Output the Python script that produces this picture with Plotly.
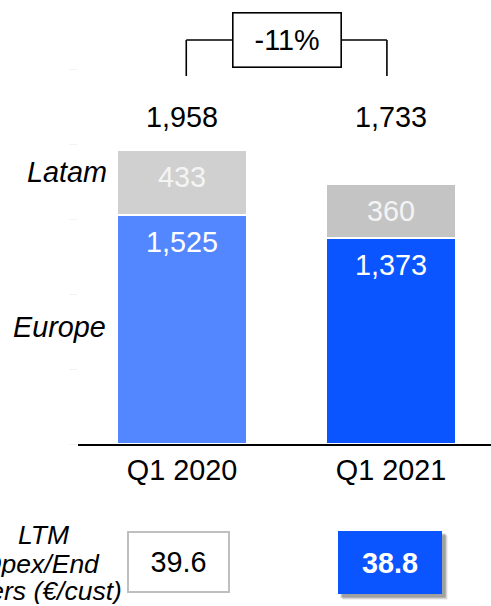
import plotly.graph_objects as go

categories = ["Q1 2020", "Q1 2021"]
europe = [1525, 1373]
latam = [433, 360]
ltm_opex = [39.6, 38.8]
change_label = "-11%"

europe_colors = ["#5387FF", "#0A55FF"]
latam_colors = ["#D0D0D0", "#C4C4C4"]

FONT = "Liberation Sans, Arial, sans-serif"
FS = 28.8

totals = [e + l for e, l in zip(europe, latam)]
xpos = list(range(len(categories)))

fig = go.Figure()
fig.add_trace(go.Bar(
    x=xpos, y=europe, width=0.624,
    marker=dict(color=europe_colors, line=dict(color="white", width=2.5)),
    hoverinfo="skip", showlegend=False,
))
fig.add_trace(go.Bar(
    x=xpos, y=latam, width=0.624,
    marker=dict(color=latam_colors, line=dict(color="white", width=2.5)),
    hoverinfo="skip", showlegend=False,
))

ann = []
# values inside segments
for i in xpos:
    ann.append(dict(x=i, y=europe[i], xref="x", yref="y", text=f"{europe[i]:,}",
                    showarrow=False, yanchor="middle", yshift=-27,
                    font=dict(family=FONT, size=FS, color="white")))
    ann.append(dict(x=i, y=totals[i], xref="x", yref="y", text=f"{latam[i]:,}",
                    showarrow=False, yanchor="middle", yshift=-27,
                    font=dict(family=FONT, size=FS, color="#F4F4F4")))
    # totals above
    ann.append(dict(x=i, y=(444 - 117) / 444, xref="x", yref="paper", text=f"{totals[i]:,}",
                    showarrow=False, yanchor="middle",
                    font=dict(family=FONT, size=FS, color="black")))

# series labels on the left
ann.append(dict(x=0, y=europe[0] + latam[0] / 2, xref="paper", yref="y", text="<i>Latam</i>",
                showarrow=False, xanchor="right", yanchor="middle", xshift=31, yshift=11,
                font=dict(family=FONT, size=FS, color="black")))
ann.append(dict(x=0, y=europe[0] / 2, xref="paper", yref="y", text="<i>Europe</i>",
                showarrow=False, xanchor="right", yanchor="middle", xshift=30, yshift=3,
                font=dict(family=FONT, size=FS, color="black")))

# change box
ann.append(dict(x=0.5, y=(444 - 39.5) / 444, xref="x", yref="paper", text=change_label,
                showarrow=False, xanchor="center", yanchor="middle",
                width=107, height=53, borderpad=0, bordercolor="black", borderwidth=1.6,
                bgcolor="white", font=dict(family=FONT, size=FS, color="black")))

# bottom metric boxes
by = (444 - 562) / 444
for k, (dx, dy, a) in enumerate([(5, -5, 0.10), (4, -4, 0.14), (3, -3, 0.18)]):
    ann.append(dict(x=1, y=by, xref="x", yref="paper", text="", showarrow=False,
                    xanchor="center", yanchor="middle", width=104, height=63, borderpad=0,
                    xshift=-1 + dx, yshift=dy, bgcolor=f"rgba(0,0,0,{a})"))
ann.append(dict(x=0, y=by, xref="x", yref="paper", text=f"{ltm_opex[0]}",
                showarrow=False, xanchor="center", yanchor="middle", xshift=-4,
                width=99, height=58, borderpad=0, bordercolor="#BFBFBF", borderwidth=2,
                bgcolor="white", font=dict(family=FONT, size=FS, color="black")))
ann.append(dict(x=1, y=by, xref="x", yref="paper", text=f"<b>{ltm_opex[1]}</b>",
                showarrow=False, xanchor="center", yanchor="middle", xshift=-1,
                width=104, height=63, borderpad=0, borderwidth=0,
                bgcolor="#0A55FF", font=dict(family=FONT, size=FS, color="white")))

# metric label (three lines)
for txt, right, yc in [("LTM", 71, 534), ("Opex/End", 101, 563), ("Customers (€/cust)", 123, 590)]:
    ann.append(dict(x=(right - 78) / 413, y=(444 - yc) / 444, xref="paper", yref="paper",
                    text=f"<i>{txt}</i>", showarrow=False, xanchor="right", yanchor="middle",
                    height=27, borderpad=0,
                    font=dict(family=FONT, size=26.5, color="black")))

shapes = []
yb = (444 - 76) / 444
yt = (444 - 40) / 444
for xl in (0.02, 0.98):
    shapes.append(dict(type="line", xref="x", yref="paper", x0=xl, x1=xl, y0=yb, y1=yt,
                       line=dict(color="black", width=1.6), layer="below"))
shapes.append(dict(type="line", xref="x", yref="paper", x0=0.02, x1=0.98, y0=yt, y1=yt,
                   line=dict(color="black", width=1.6), layer="below"))

fig.update_layout(
    width=491, height=606,
    margin=dict(l=78, r=0, t=0, b=162),
    barmode="stack", bargap=0,
    plot_bgcolor="white", paper_bgcolor="white",
    annotations=ann, shapes=shapes,
    font=dict(family=FONT, size=FS, color="black"),
)
fig.update_xaxes(
    range=[-0.498, 1.478], tickmode="array", tickvals=xpos, ticktext=categories,
    showline=True, linecolor="black", linewidth=1.5, showgrid=False, zeroline=False,
    ticks="", tickfont=dict(family=FONT, size=FS, color="black"),
)
fig.update_yaxes(
    range=[0, 2960], showgrid=False, zeroline=False, showline=False,
    ticks="outside", ticklen=8, tickcolor="#F2F2F2", dtick=500, showticklabels=False,
)

fig.write_html("out.html", config={"displayModeBar": False},
               post_script="document.body.style.margin='0';document.body.style.overflow='hidden';")
